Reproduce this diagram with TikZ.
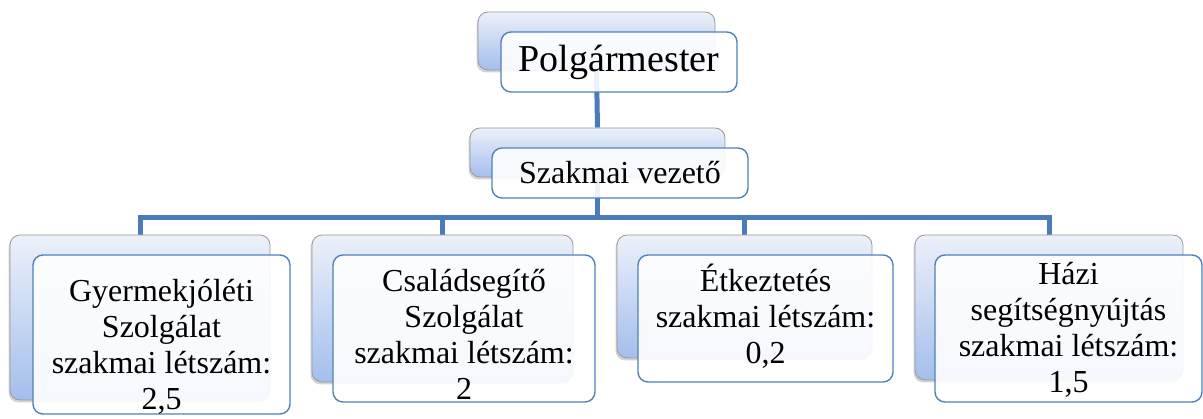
\documentclass[tikz,border=0pt]{standalone}
\usepackage{fontspec}
\setmainfont{Liberation Serif}
\usepackage{tikz}
\usetikzlibrary{positioning,calc,backgrounds,shadows}
\definecolor{accblue}{RGB}{79,129,189}
\definecolor{connblue}{RGB}{74,124,185}
\definecolor{backtop}{RGB}{236,241,250}
\definecolor{backbot}{RGB}{164,190,236}

\begin{document}
\begin{tikzpicture}[
    x=1pt, y=-1pt,
    every node/.style={font=\fontsize{32}{36}\selectfont},
    backbox/.style={rectangle, draw=gray!80, line width=0.8pt, rounded corners=10pt,
        top color=backtop, bottom color=backbot,
        drop shadow={shadow xshift=-1.5pt, shadow yshift=-2.5pt, opacity=0.35}},
    frontbox/.style={rectangle, draw=accblue, line width=1.4pt, rounded corners=10pt,
        fill=white, fill opacity=0.9, text opacity=1, align=center, inner sep=0pt},
    txt/.style={align=center, inner sep=0pt, anchor=north},
    conn/.style={draw=connblue, line width=5pt, line join=miter}
]
\useasboundingbox (0,0) rectangle (1203,419);

% ============ TOP LEVEL ============
\node[backbox, minimum width=237pt, minimum height=58pt] (pb) at (596.5,41) {};
\node[frontbox, minimum width=236pt, minimum height=60pt,
      font=\fontsize{38}{44}\selectfont] (pf) at (619,62) {Polgármester};

% ============ SECOND LEVEL ============
\node[backbox, minimum width=255pt, minimum height=49pt] (sb) at (597.5,152.5) {};
\node[frontbox, minimum width=256pt, minimum height=50pt] (sf) at (620,173) {Szakmai vezető};

% ============ THIRD LEVEL ============
% Gyermekjoleti
\node[backbox, minimum width=260pt, minimum height=165pt] (c1b) at (140,317.5) {};
\node[frontbox, minimum width=257pt, minimum height=159pt] (c1f) at (161.5,334.5) {};
\node[txt] (c1t) at ($(c1f.north)+(0,17)$) {\rule{0pt}{30pt}Gyermekjóléti\\Szolgálat\\szakmai létszám:\\2,5};

% Csaladsegito
\node[backbox, minimum width=261pt, minimum height=147pt] (c2b) at (442.5,308.5) {};
\node[frontbox, minimum width=262pt, minimum height=147pt] (c2f) at (464,328.5) {};
\node[txt] (c2t) at ($(c2f.north)+(0,7)$) {\rule{0pt}{30pt}Családsegítő\\Szolgálat\\szakmai létszám:\\2};

% Etkeztetes
\node[backbox, minimum width=255pt, minimum height=123pt] (c3b) at (744.5,296.5) {};
\node[frontbox, minimum width=255pt, minimum height=127pt] (c3f) at (765.5,318.5) {};
\node[txt] (c3t) at ($(c3f.north)+(0,7)$) {\rule{0pt}{30pt}Étkeztetés\\szakmai létszám:\\0,2};

% Hazi segitsegnyujtas
\node[backbox, minimum width=268pt, minimum height=145pt] (c4b) at (1049,307.5) {};
\node[frontbox, minimum width=267pt, minimum height=147pt] (c4f) at (1068.5,328.5) {};
\node[txt] (c4t) at ($(c4f.north)+(0,0)$) {\rule{0pt}{30pt}Házi\\segítségnyújtás\\szakmai létszám:\\1,5};

% ============ CONNECTORS ============
\coordinate (bar) at (597.5,218);
\begin{scope}[on background layer]
\draw[conn] (pb.south) -- (sb.north);
\draw[conn] (sb.south) -- (bar);
\draw[conn] (c1b.north) |- (bar) -| (c4b.north);
\draw[conn] (c2b.north) -- (c2b.north |- bar);
\draw[conn] (c3b.north) -- (c3b.north |- bar);
\end{scope}

\end{tikzpicture}
\end{document}
